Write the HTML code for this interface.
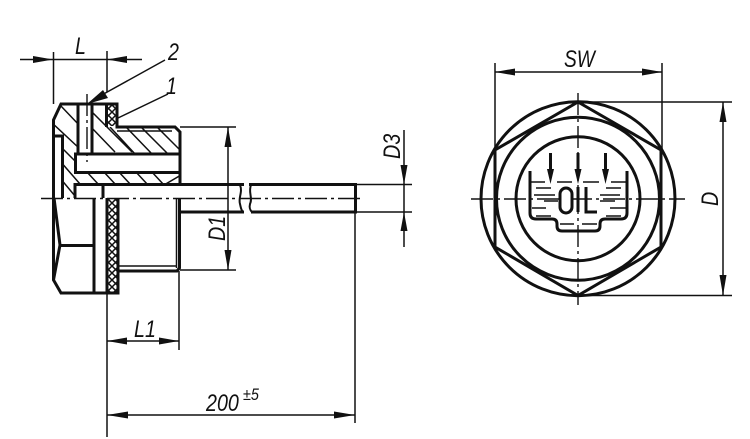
<!DOCTYPE html>
<html><head><meta charset="utf-8">
<style>
html,body{margin:0;padding:0;background:#fff}
svg{display:block}
text{font-family:"Liberation Sans",sans-serif;font-style:italic;fill:#111;font-size:24px}
.k{stroke:#111;stroke-width:3;fill:none}
.m{stroke:#111;stroke-width:2;fill:none}
.t{stroke:#111;stroke-width:1.5;fill:none}
.c{stroke:#111;stroke-width:1.4;fill:none;stroke-dasharray:22 4 3 4}
.a{fill:#111;stroke:none}
</style></head><body>
<svg width="750" height="439" viewBox="0 0 750 439" xmlns="http://www.w3.org/2000/svg">
<defs>
<clipPath id="h1"><path d="M54 120L61 104H78V154H75V198H62V136H54ZM92 104H107V127H175L180 132V154H92ZM75 172H180V184H75Z"/></clipPath>
<pattern id="xh" width="7" height="7" patternUnits="userSpaceOnUse"><path d="M0 0L7 7M7 0L0 7" stroke="#111" stroke-width="1.5"/></pattern>
</defs>

<!-- hatching -->
<g clip-path="url(#h1)" class="t">
<path d="M50 121L80 149M60 105L80 126M60 146L78 164M60 161L80 184M60 178L80 202M90 110L132 152M90 126L115 152M110 127L136 155M126 127L153 155M140 126L169 155M156 126L185 155M86 171L99 185M103 171L116 185M118 171L131 185M135 171L148 185M151 171L164 185M181 175L164 185"/>
</g>

<!-- left view outline upper -->
<path class="k" d="M53.500 198V120L61 104H117V127H175L180 132V184"/>
<path class="k" d="M53.500 136H62.500V198"/>
<path class="k" d="M78 104V154M92 104V154"/>
<path class="k" d="M180 154H75.500V172.500H180"/>
<path class="k" d="M103 198V184.500H75V198"/>
<path class="k" d="M75 184.500H244"/>
<path class="k" d="M106.500 105V127"/>
<rect x="107" y="105" width="10" height="21" fill="url(#xh)"/>
<path class="t" d="M117 131H172"/>

<!-- left view lower -->
<path class="k" d="M53.500 198V280L61 293H118V198"/>
<path class="k" d="M54 198L60 245L53.500 280"/>
<path class="k" d="M60 245.500H94M94 198V293M107 198V293"/>
<rect x="108" y="199" width="10" height="93" fill="url(#xh)"/>
<path class="k" d="M118 271H177L179.500 268V198"/>
<path class="t" d="M118 266H177M176.500 198V268"/>
<path class="k" d="M179.500 212H244"/>

<!-- tube -->
<path class="k" d="M249 184.500H355.500V212H251"/>
<path class="m" d="M240 185C243 192 238 198 240 204C241 208 241 210 243 212M251 185C248 192 253 198 250 204C249 208 250 210 252 212"/>

<!-- center lines -->
<path class="c" d="M41 198.500H364"/>
<path class="c" d="M87 94V162"/>

<!-- dim L -->
<path class="t" d="M20 59.500H142M53.500 52V104M107 51V92"/>
<path class="a" d="M53 59.500L33 56V63ZM107 59.500L127 56V63Z"/>
<path class="t" d="M165 60L100 96M168 94L118 118"/>
<path class="a" d="M87 104L103 90L108 98Z"/>
<text transform="translate(75 54) scale(.82 1)">L</text>
<text transform="translate(168 60) scale(.82 1)">2</text>
<text transform="translate(166 94) scale(.82 1)">1</text>

<!-- dim D1 -->
<path class="t" d="M180 127H236M180 270H236M228 127V270"/>
<path class="a" d="M228 127L224.500 147H231.500ZM228 270L224.500 250H231.500Z"/>
<text transform="translate(225 241) rotate(-90) scale(.82 1)">D1</text>

<!-- dim D3 -->
<path class="t" d="M356 184.500H412M356 212H412M404 130V247"/>
<path class="a" d="M404 184.500L400.500 165H407.500ZM404 212L400.500 231H407.500Z"/>
<text transform="translate(400 159) rotate(-90) scale(.82 1)">D3</text>

<!-- dim L1 -->
<path class="t" d="M107 271V437M179 271V350M107 341H179"/>
<path class="a" d="M107 341L127 337.500V344.500ZM179 341L159 337.500V344.500Z"/>
<text transform="translate(134 337) scale(.82 1)">L1</text>

<!-- dim 200 -->
<path class="t" d="M355 212V423M107 415H355"/>
<path class="a" d="M107 415L128 411.500V418.500ZM355 415L334 411.500V418.500Z"/>
<text transform="translate(206 411) scale(.82 1)">200</text>
<text transform="translate(243 400) scale(.85 1)" style="font-size:17px">±5</text>

<!-- right view -->
<circle class="k" cx="578" cy="198.700" r="97"/>
<circle class="k" cx="578" cy="198.700" r="81.500"/>
<circle class="k" cx="578" cy="198.700" r="62"/>
<path class="k" d="M578 102L661 150V247L578 295.500L495 247V150Z"/>
<path class="c" d="M471 199H685"/>
<path class="c" d="M578 93V305"/>

<!-- oil symbol -->
<path class="k" d="M530 171V213Q530 219 536 219H552Q557 219 557 224V226Q557 231 562 231H595Q600 231 600 226V224Q600 219 605 219H621Q627 219 627 213V171"/>
<path class="k" d="M550.500 153V172M578 153V172M605.500 153V172" stroke-width="2.500"/>
<path class="a" d="M550.500 184L547 169H554ZM578 184L574.500 169H581.500ZM605.500 184L602 169H609Z"/>
<path class="t" d="M530 182H545M557 182H572M583 182H599M611 182H627M536 188H551M606 188H621M534 195H555M600 195H620M544 201H558M600 201H615M532 208H546M610 208H626M536 216H551M606 216H621M560 224H574M582 224H597"/>
<rect x="560" y="188" width="12" height="25" rx="6" fill="#fff" stroke="#111" stroke-width="3"/>
<path class="k" d="M578 187V212M586 187V212H597"/>

<!-- dim SW -->
<path class="t" d="M495 63V150M662 63V150M495 72H662"/>
<path class="a" d="M495 72L515 68.500V75.500ZM662 72L642 68.500V75.500Z"/>
<text transform="translate(564 67) scale(.8 1)">SW</text>

<!-- dim D -->
<path class="t" d="M578 102H732M578 295.500H732M723 102V295.500"/>
<path class="a" d="M723 102L719.500 122H726.500ZM723 295.500L719.500 275H726.500Z"/>
<text transform="translate(718 206) rotate(-90) scale(.82 1)">D</text>
</svg>
</body></html>
